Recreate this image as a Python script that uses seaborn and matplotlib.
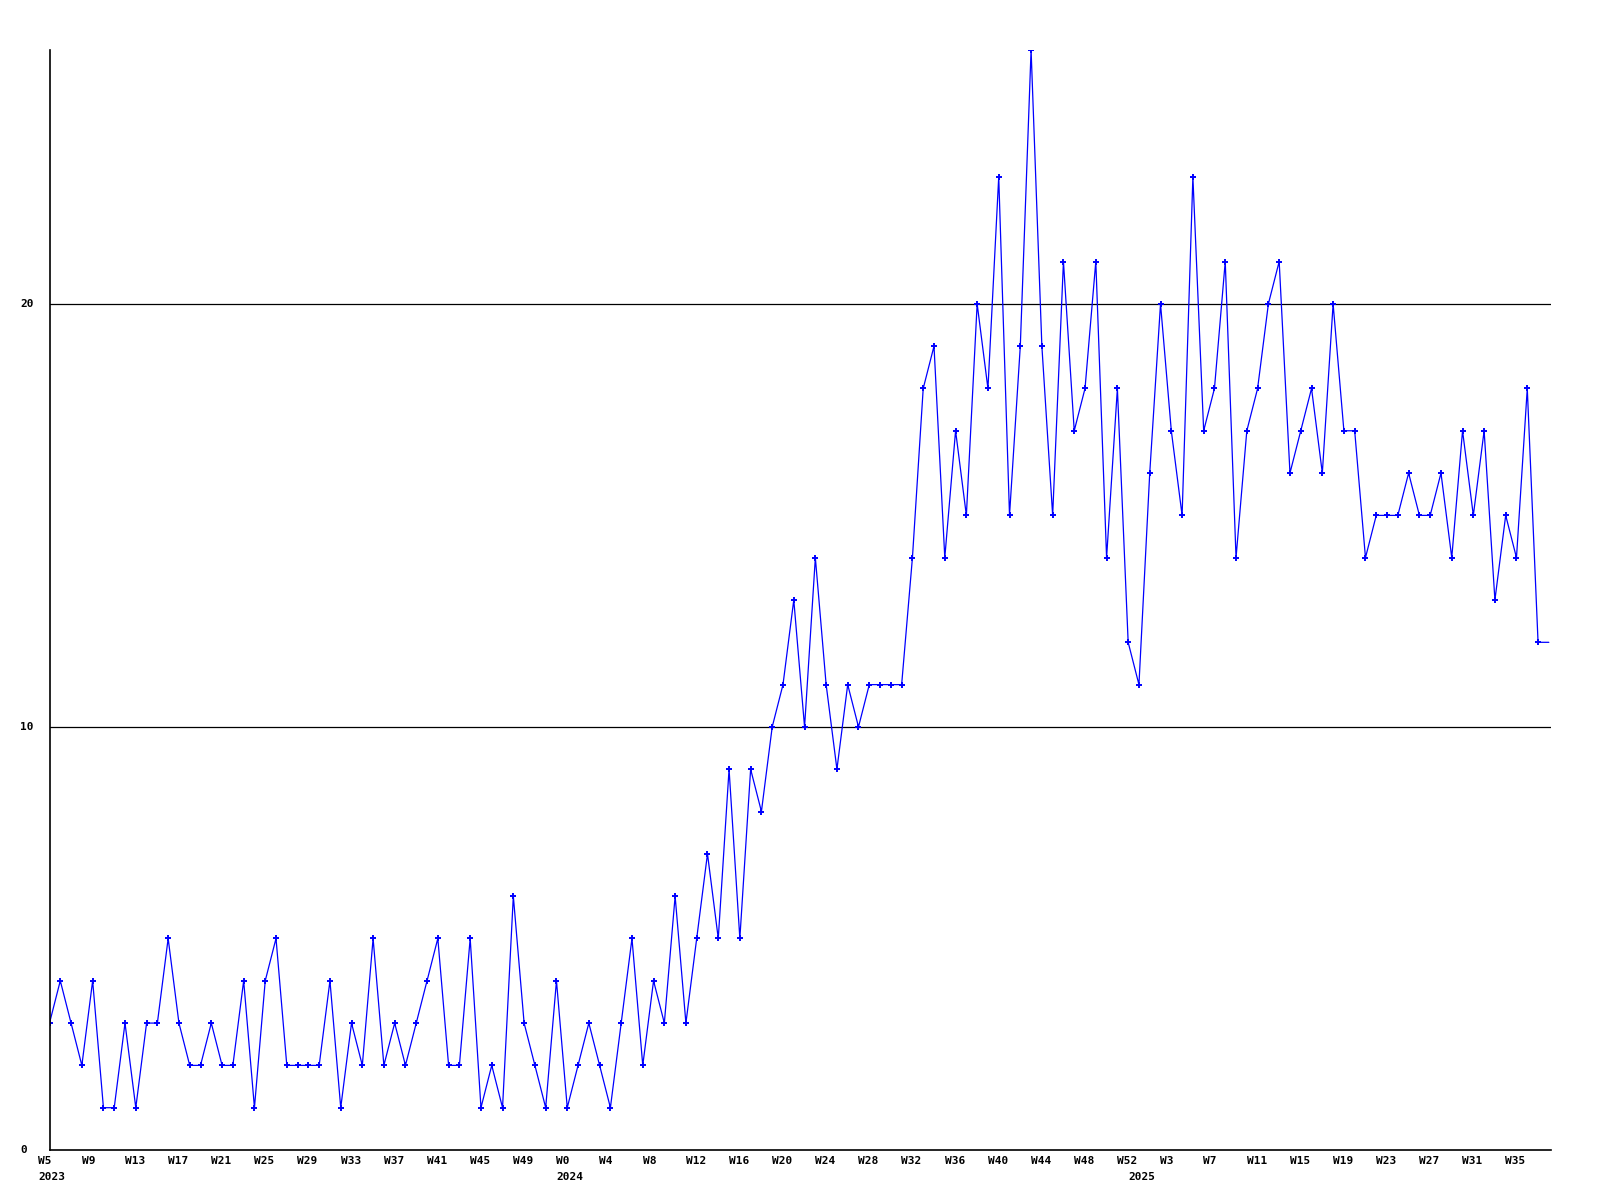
import matplotlib
matplotlib.use("Agg")
import matplotlib.pyplot as plt
import matplotlib.transforms as mtransforms
import seaborn as sns
import pandas as pd

# ---- data ----
values = [
    3, 4, 3, 2, 4, 1, 1, 3, 1, 3, 3, 5, 3, 2, 2, 3, 2, 2, 4, 1,
    4, 5, 2, 2, 2, 2, 4, 1, 3, 2, 5, 2, 3, 2, 3, 4, 5, 2, 2, 5,
    1, 2, 1, 6, 3, 2, 1, 4, 1, 2, 3, 2, 1, 3, 5, 2, 4, 3, 6, 3,
    5, 7, 5, 9, 5, 9, 8, 10, 11, 13, 10, 14, 11, 9, 11, 10, 11, 11, 11, 11,
    14, 18, 19, 14, 17, 15, 20, 18, 23, 15, 19, 26, 19, 15, 21, 17, 18, 21, 14, 18,
    12, 11, 16, 20, 17, 15, 23, 17, 18, 21, 14, 17, 18, 20, 21, 16, 17, 18, 16, 20,
    17, 17, 14, 15, 15, 15, 16, 15, 15, 16, 14, 17, 15, 17, 13, 15, 14, 18, 12, 12,
]
week_labels = [
    "W5", "W9", "W13", "W17", "W21", "W25", "W29", "W33", "W37", "W41", "W45", "W49",
    "W0", "W4", "W8", "W12", "W16", "W20", "W24", "W28", "W32", "W36", "W40", "W44", "W48", "W52",
    "W3", "W7", "W11", "W15", "W19", "W23", "W27", "W31", "W35",
]
year_labels = ["2023", "2024", "2025"]
year_starts = [0, 48, 101]
y_ticks = [0, 10, 20]

df = pd.DataFrame({"week": range(len(values)), "count": values})

# ---- figure ----
sns.set_style("white")
fig = plt.figure(figsize=(16, 12), dpi=100)
ax = fig.add_axes([49.5 / 1600, 50 / 1200, (1551 - 49.5) / 1600, 1100 / 1200])

n_mark = len(values) - 1
sns.lineplot(data=df, x="week", y="count", ax=ax, color="#0000ff", linewidth=0.9,
             marker="+", markersize=4.5, markeredgewidth=1.4, markeredgecolor="#0000ff",
             markevery=list(range(n_mark)), clip_on=True)

ax.set_xlim(0, len(values) - 1 + 0.2)
ax.set_ylim(0, 26)

for y in y_ticks[1:]:
    ax.axhline(y, color="black", linewidth=0.9, zorder=0)

for side in ["top", "right"]:
    ax.spines[side].set_visible(False)
for side in ["left", "bottom"]:
    ax.spines[side].set_color("black")
    ax.spines[side].set_linewidth(1.2)

ax.set_xticks([])
ax.set_yticks([])
ax.set_xlabel("")
ax.set_ylabel("")

font = dict(family="DejaVu Sans Mono", fontweight="bold", fontsize=8, color="black")

# x week labels
blend = mtransforms.blended_transform_factory(ax.transData, ax.transAxes)
tr = mtransforms.offset_copy(blend, fig=fig, x=-11, y=-11, units="dots")
for k, lab in enumerate(week_labels):
    ax.text(k * 4, 0, lab, transform=tr, ha="left", va="center", **font)

tr2 = mtransforms.offset_copy(blend, fig=fig, x=-11, y=-27, units="dots")
for pos, lab in zip(year_starts, year_labels):
    ax.text(pos, 0, lab, transform=tr2, ha="left", va="center", **font)

# y labels
blend_y = mtransforms.blended_transform_factory(fig.transFigure, ax.transData)
for y in y_ticks:
    ax.text(20 / 1600, y, str(y), transform=blend_y, ha="left", va="center", **font)

fig.savefig("out.png", dpi=100, facecolor="white")
